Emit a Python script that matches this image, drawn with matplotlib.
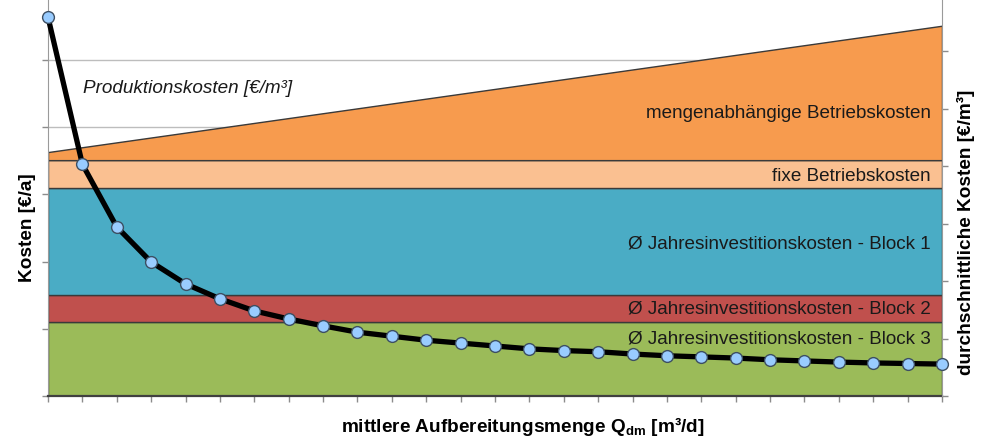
import numpy as np
import matplotlib
matplotlib.use('Agg')
import matplotlib.pyplot as plt

plt.rcParams['font.family'] = ['Liberation Sans', 'DejaVu Sans']
plt.rcParams['mathtext.fontset'] = 'custom'
plt.rcParams['mathtext.rm'] = 'Liberation Sans'
plt.rcParams['mathtext.bf'] = 'Liberation Sans:bold'

# annual cost components [€/a] (arbitrary units, left axis)
invest_block3 = 1.10
invest_block2 = 0.41
invest_block1 = 1.59
fixed_opex = 0.41
q_range = [0, 26]
variable_opex = [0.12, 2.00]

# average production cost [€/m³] (right axis)
q_points = list(range(27))
avg_cost = [6.59, 4.03, 2.94, 2.33, 1.95, 1.69, 1.48, 1.34, 1.22, 1.11,
            1.04, 0.97, 0.92, 0.87, 0.82, 0.79, 0.77, 0.73, 0.70, 0.68,
            0.66, 0.63, 0.61, 0.59, 0.575, 0.565, 0.555]

band_labels = ['mengenabhängige Betriebskosten', 'fixe Betriebskosten',
               'Ø Jahresinvestitionskosten - Block 1',
               'Ø Jahresinvestitionskosten - Block 2',
               'Ø Jahresinvestitionskosten - Block 3']
band_colors = ['#F79B4E', '#FAC091', '#4AACC5', '#C0504D', '#9BBB59']

fig = plt.figure(figsize=(9.89, 4.38), dpi=100)
ax = fig.add_axes([48 / 989, 42 / 438, 894 / 989, 396 / 438])

x = np.array(q_range, dtype=float)
lvl0 = np.zeros(2)
lvl1 = lvl0 + invest_block3
lvl2 = lvl1 + invest_block2
lvl3 = lvl2 + invest_block1
lvl4 = lvl3 + fixed_opex
lvl5 = lvl4 + np.array(variable_opex)

edge = '#3a3a3a'
for lo, hi, col in [(lvl0, lvl1, band_colors[4]), (lvl1, lvl2, band_colors[3]),
                    (lvl2, lvl3, band_colors[2]), (lvl3, lvl4, band_colors[1]),
                    (lvl4, lvl5, band_colors[0])]:
    ax.fill_between(x, lo, hi, facecolor=col, edgecolor=edge, linewidth=1.0, zorder=2)

ax.set_xlim(0, 26)
ax.set_ylim(0, 396 / 67.2)
ax.set_xticks(range(27))
ax.set_yticks(range(6))
ax.set_xticklabels([])
ax.set_yticklabels([])
ax.grid(axis='y', color='#bdbdbd', linewidth=1.0, zorder=0)
ax.set_axisbelow(True)
ax.tick_params(axis='both', direction='out', length=4, color='#8c8c8c', width=1)
ax.spines['top'].set_visible(False)
ax.spines['right'].set_visible(False)
ax.spines['left'].set_color('#9a9a9a')
ax.spines['bottom'].set_color('#404040')
ax.spines['bottom'].set_linewidth(1.6)

# band labels, right aligned
tx = (931 - 48) / (894 / 26)
label_y = [4.21, 3.27, 2.26, 1.29, 0.85]
for lab, yy in zip(band_labels, label_y):
    ax.text(tx, yy, lab, ha='right', va='center', fontsize=13.6, color='#1a1a1a', zorder=3)

ax.text(1.02, 4.58, 'Produktionskosten [€/m³]', ha='left', va='center',
        fontsize=13.6, style='italic', color='#1a1a1a', zorder=3)

ax2 = ax.twinx()
ax2.set_ylim(0, 396 / 57.5)
ax2.set_yticks(range(7))
ax2.set_yticklabels([])
ax2.tick_params(axis='y', direction='out', length=4, color='#8c8c8c', width=1)
for s in ['top', 'left', 'bottom']:
    ax2.spines[s].set_visible(False)
ax2.spines['right'].set_color('#9a9a9a')

ax2.plot(q_points, avg_cost, color='black', linewidth=3.8, marker='o', markersize=8.5,
         markerfacecolor='#99CCFF', markeredgecolor='#3d4f63', markeredgewidth=1.0,
         clip_on=False, zorder=5)

fig.text(28 / 989, 1 - 228 / 438, 'Kosten [€/a]', rotation=90, ha='center', va='center',
         fontsize=13.7, fontweight='bold')
fig.text(966 / 989, 1 - 232 / 438, 'durchschnittliche Kosten [€/m³]', rotation=90,
         ha='center', va='center', fontsize=13.7, fontweight='bold')
fig.text(523 / 989, 1 - 427 / 438, r'mittlere Aufbereitungsmenge $\mathbf{Q_{dm}}$ [m³/d]',
         ha='center', va='center', fontsize=13.7, fontweight='bold')

fig.savefig('out.png', dpi=100)
